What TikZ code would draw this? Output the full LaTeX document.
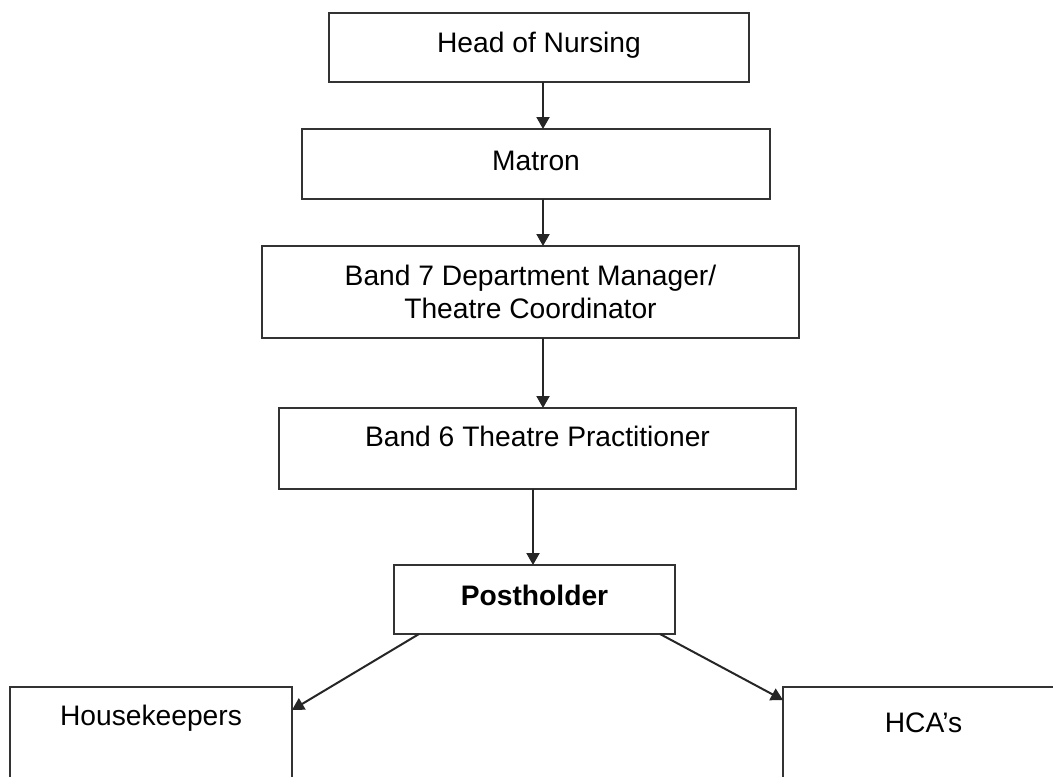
\documentclass[tikz,border=0pt]{standalone}
\usepackage{fontspec}
\setmainfont{Liberation Sans}
\usepackage{tikz}
\usetikzlibrary{arrows.meta, calc}

\begin{document}
\begin{tikzpicture}[
    x=0.5pt, y=-0.5pt,
    % Style for the role boxes
    rolebox/.style={
        rectangle,
        draw=black!80,
        line width=1pt,
        fill=white,
        font=\fontsize{14.1}{16.2}\selectfont,
        align=center,
        inner sep=0pt,
        outer sep=0pt
    },
    % Text sits higher than the box centre
    raised/.style={text height=10.1pt, text depth=#1},
    % Style for the reporting lines
    link/.style={
        -{Triangle[width=6.5pt,length=6pt]},
        line width=1pt,
        black!85
    }
]

    % --- Frame ---
    \useasboundingbox (0,0) rectangle (1053,776);
    \clip (0,0) rectangle (1053,776);

    % --- Draw Boxes ---
    \node[rolebox, raised=5pt, minimum width=210pt, minimum height=34.5pt] (head) at (539,47.5) {Head of Nursing};
    \node[rolebox, raised=3.5pt, minimum width=234pt, minimum height=35pt] (matron) at (536,164) {Matron};
    \node[rolebox, minimum width=268.5pt, minimum height=46pt] (band7) at (530.5,292) {Band 7 Department Manager/\\Theatre Coordinator};
    \node[rolebox, raised=12pt, minimum width=258.5pt, minimum height=40.5pt] (band6) at (537.5,448.5) {Band 6 Theatre Practitioner};
    \node[rolebox, raised=4.5pt, minimum width=140.5pt, minimum height=34.5pt] (post) at (534.5,599.5) {\bfseries Postholder};

    % Bottom row runs off the page
    \node[rolebox, raised=36.5pt, minimum width=141pt, minimum height=65pt] (keepers) at (151,752) {Housekeepers};
    \node[rolebox, raised=30pt, minimum width=140.5pt, minimum height=65pt] (hca) at (923.5,752) {HCA's};

    % --- Draw Reporting Lines ---
    \draw[link] ([xshift=2pt]head.south) -- ([xshift=2pt]head.south |- matron.north);
    \draw[link] ([xshift=3.5pt]matron.south) -- ([xshift=3.5pt]matron.south |- band7.north);
    \draw[link] ([xshift=6.25pt]band7.south) -- ([xshift=6.25pt]band7.south |- band6.north);
    \draw[link] ([xshift=-2.25pt]band6.south) -- ([xshift=-2.25pt]band6.south |- post.north);

    % Split to the two teams
    \draw[link] ([xshift=12.5pt]post.south west) -- ([yshift=-11.5pt]keepers.north east);
    \draw[link] ([xshift=-7.5pt]post.south east) -- ([yshift=-6.5pt]hca.north west);

\end{tikzpicture}
\end{document}
